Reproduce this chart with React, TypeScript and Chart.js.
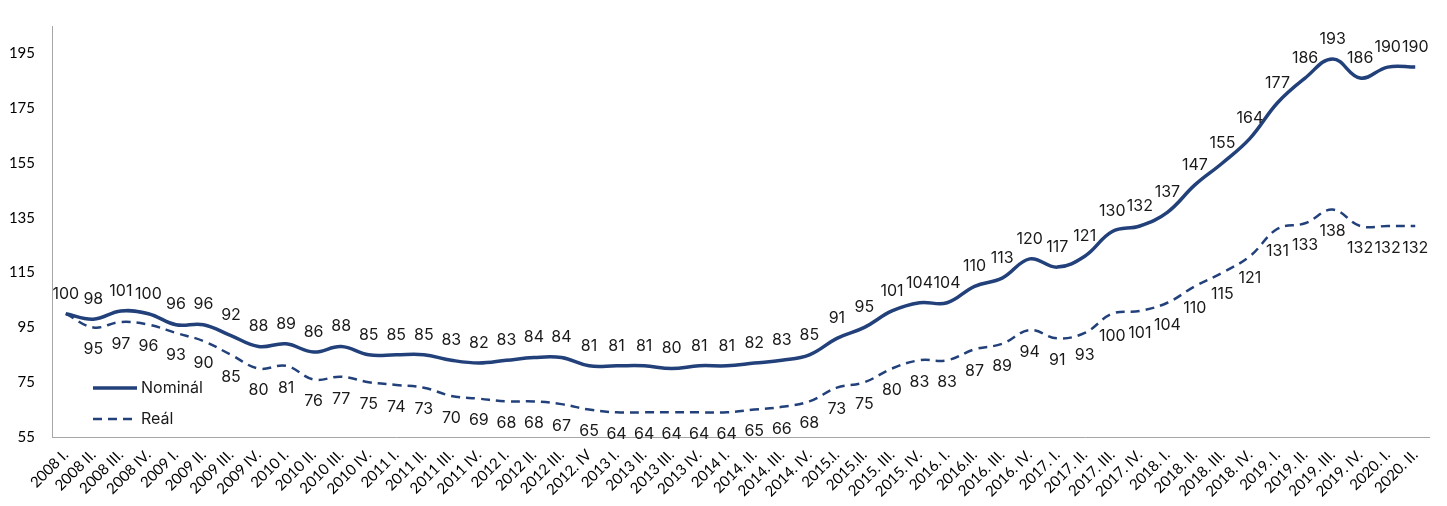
import React, { useEffect, useRef } from 'react';
import { Chart, registerables } from 'chart.js';

Chart.register(...registerables);

const categories = [
  '2008 I.', '2008 II.', '2008 III.', '2008 IV.',
  '2009 I.', '2009 II.', '2009 III.', '2009 IV.',
  '2010 I.', '2010 II.', '2010 III.', '2010 IV.',
  '2011 I.', '2011 II.', '2011 III.', '2011 IV.',
  '2012 I.', '2012 II.', '2012 III.', '2012. IV',
  '2013 I.', '2013 II.', '2013 III.', '2013 IV.',
  '2014 I.', '2014. II.', '2014. III.', '2014. IV.',
  '2015.I.', '2015.II.', '2015. III.', '2015. IV.',
  '2016. I.', '2016.II.', '2016. III.', '2016. IV.',
  '2017. I.', '2017. II.', '2017. III.', '2017. IV.',
  '2018. I.', '2018. II.', '2018. III.', '2018. IV.',
  '2019. I.', '2019. II.', '2019. III.', '2019. IV.',
  '2020. I.', '2020. II.',
];

const nominal = [
  100, 98, 101, 100, 96, 96, 92, 88, 89, 86, 88, 85, 85, 85, 83, 82,
  83, 84, 84, 81, 81, 81, 80, 81, 81, 82, 83, 85, 91, 95, 101, 104,
  104, 110, 113, 120, 117, 121, 130, 132, 137, 147, 155, 164, 177, 186, 193, 186,
  190, 190,
];

const real = [
  100, 95, 97, 96, 93, 90, 85, 80, 81, 76, 77, 75, 74, 73, 70, 69,
  68, 68, 67, 65, 64, 64, 64, 64, 64, 65, 66, 68, 73, 75, 80, 83,
  83, 87, 89, 94, 91, 93, 100, 101, 104, 110, 115, 121, 131, 133, 138, 132,
  132, 132,
];

const yTicks = [55, 75, 95, 115, 135, 155, 175, 195];
const seriesNames = ['Nominál', 'Reál'];

const NAVY = '#22407A';
const LABEL_FONT = '16px Inter';

const dataLabelPlugin = {
  id: 'dataLabels',
  afterDatasetsDraw(chart: any) {
    const ctx = chart.ctx;
    ctx.save();
    ctx.font = LABEL_FONT;
    ctx.fillStyle = '#1a1a1a';
    ctx.textAlign = 'center';
    ctx.textBaseline = 'middle';
    chart.data.datasets.forEach((ds: any, di: number) => {
      const meta = chart.getDatasetMeta(di);
      meta.data.forEach((pt: any, i: number) => {
        if (di === 1 && i === 0) return;
        const off = di === 0 ? -20 : 22;
        ctx.fillText(String(ds.data[i]), pt.x, pt.y + off);
      });
    });
    ctx.restore();
  },
};

const legendPlugin = {
  id: 'innerLegend',
  afterDraw(chart: any) {
    const { ctx, chartArea } = chart;
    ctx.save();
    const x0 = chartArea.left + 41;
    const x1 = chartArea.left + 85;
    const rows = [chartArea.bottom - 49, chartArea.bottom - 18];
    chart.data.datasets.forEach((ds: any, i: number) => {
      const y = rows[i];
      ctx.beginPath();
      ctx.strokeStyle = ds.borderColor;
      ctx.lineWidth = ds.borderWidth;
      ctx.setLineDash(ds.borderDash || []);
      ctx.moveTo(x0, y);
      ctx.lineTo(x1, y);
      ctx.stroke();
      ctx.setLineDash([]);
      ctx.font = LABEL_FONT;
      ctx.fillStyle = '#1a1a1a';
      ctx.textAlign = 'left';
      ctx.textBaseline = 'middle';
      ctx.fillText(ds.label, x1 + 4, y);
    });
    ctx.restore();
  },
};

export default function App() {
  const ref = useRef<HTMLCanvasElement | null>(null);

  useEffect(() => {
    if (!ref.current) return;
    const chart = new Chart(ref.current, {
      type: 'line',
      data: {
        labels: categories,
        datasets: [
          {
            label: seriesNames[0],
            data: nominal,
            borderColor: NAVY,
            backgroundColor: NAVY,
            borderWidth: 3.5,
            pointRadius: 0,
            tension: 0.4,
            fill: false,
          },
          {
            label: seriesNames[1],
            data: real,
            borderColor: NAVY,
            backgroundColor: NAVY,
            borderWidth: 2.5,
            borderDash: [9, 6],
            pointRadius: 0,
            tension: 0.4,
            fill: false,
          },
        ],
      },
      options: {
        animation: false,
        responsive: true,
        maintainAspectRatio: false,
        layout: { padding: { left: 0, right: 18, top: 5, bottom: 0 } },
        plugins: {
          legend: { display: false },
          tooltip: { enabled: false },
        },
        scales: {
          x: {
            type: 'category',
            offset: true,
            grid: { display: false, drawTicks: false },
            border: { display: true, color: '#A6A6A6', width: 1 },
            ticks: {
              autoSkip: false,
              minRotation: 45,
              maxRotation: 45,
              padding: 9,
              color: '#000',
              font: { family: 'Lato', size: 15 },
            },
            afterFit: (s: any) => {
              s.height = 69;
            },
          },
          y: {
            min: 55,
            max: 205,
            grid: { display: false, drawTicks: false },
            border: { display: true, color: '#A6A6A6', width: 1 },
            ticks: {
              padding: 17,
              color: '#000',
              font: { family: 'Lato', size: 15 },
            },
            afterBuildTicks: (s: any) => {
              s.ticks = yTicks.map((v) => ({ value: v }));
            },
            afterFit: (s: any) => {
              s.width = 52;
            },
          },
        },
      },
      plugins: [dataLabelPlugin, legendPlugin],
    });
    return () => chart.destroy();
  }, []);

  return (
    <div style={{ position: 'fixed', left: 0, top: 0, width: 1447, height: 506 }}>
      <canvas ref={ref} />
    </div>
  );
}
